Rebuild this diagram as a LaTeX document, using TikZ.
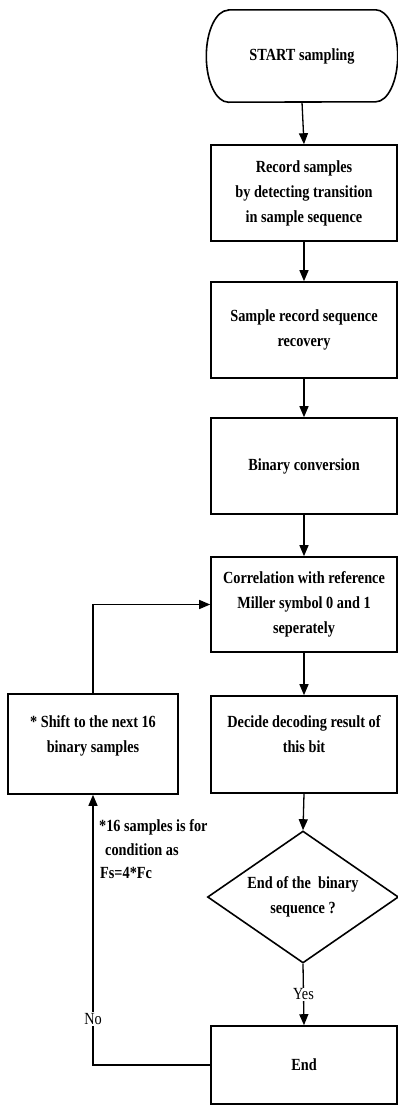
\documentclass[tikz,border=0pt]{standalone}
\usepackage{fontspec}
\setmainfont{Liberation Serif}[FakeStretch=0.84]
\usetikzlibrary{shapes.geometric,arrows.meta}
\begin{document}
\begin{tikzpicture}[x=1pt,y=-1pt,
  every node/.style={font=\fontsize{17}{25}\selectfont\bfseries},
  procbox/.style={draw,line width=1.6pt,rectangle,inner sep=0pt,align=center,minimum width=186pt},
  decbox/.style={draw,line width=1.6pt,diamond,inner sep=0pt,align=center,minimum width=191pt,minimum height=132pt,shape aspect=1.45},
  lbl/.style={font=\fontsize{17}{25}\selectfont,fill=white,inner sep=1pt},
  conn/.style={line width=1.3pt,-{Triangle[length=11pt,width=9pt]}},
  plain/.style={line width=1.3pt}]
\useasboundingbox (0,0) rectangle (398,1106);
\fill[white] (0,0) rectangle (398,1106);
% start terminal
\node[inner sep=0pt,minimum width=191pt,minimum height=92pt] (start) at (302,56) {START sampling};
\draw[line width=1.6pt] ([xshift=22pt]start.north west) -- ([xshift=-22pt]start.north east)
  arc[start angle=90,end angle=-90,x radius=22pt,y radius=46pt]
  -- ([xshift=22pt]start.south west)
  arc[start angle=270,end angle=90,x radius=22pt,y radius=46pt] -- cycle;
\node[procbox,minimum height=96pt] (b1) at (304,193) {Record samples\\by detecting transition\\in sample sequence};
\node[procbox,minimum height=96pt] (b2) at (304,330) {Sample record sequence\\recovery};
\node[procbox,minimum height=96pt] (b3) at (304,466) {Binary conversion};
\node[procbox,minimum height=95pt] (b4) at (304,604.5) {Correlation with reference\\Miller symbol 0 and 1\\seperately};
\node[procbox,minimum height=97pt,text depth=20pt] (b5) at (304,744.5) {Decide decoding result of\\this bit};
\node[procbox,minimum width=170pt,minimum height=100pt,text depth=20pt] (shift) at (93,744) {* Shift to the next 16\\binary samples};
\node[decbox] (dec) at (303,897) {End of the\ \ binary\\sequence ?};
\node[procbox,minimum height=78pt] (end) at (304,1065) {End};
\node[inner sep=0pt,align=left,anchor=north west,font=\fontsize{17}{23.5}\selectfont\bfseries] (note) at (99,819.5) {*16 samples is for\\\hspace{6pt}condition as\\\hspace{1pt}Fs=4*Fc};
% connectors
\draw[conn] (start.south) -- (b1.north);
\draw[conn] (b1.south) -- (b2.north);
\draw[conn] (b2.south) -- (b3.north);
\draw[conn] (b3.south) -- (b4.north);
\draw[conn] (b4.south) -- (b5.north);
\draw[conn] (b5.south) -- (dec.north);
\draw[conn] (dec.south) -- node[lbl] {Yes} (end.north);
\draw[conn] (shift.north) |- (b4.west);
\coordinate (corner) at (shift.south |- end.west);
\draw[conn] (end.west) -- (corner) -- node[lbl,pos=0.17] {No} (shift.south);
\end{tikzpicture}
\end{document}
